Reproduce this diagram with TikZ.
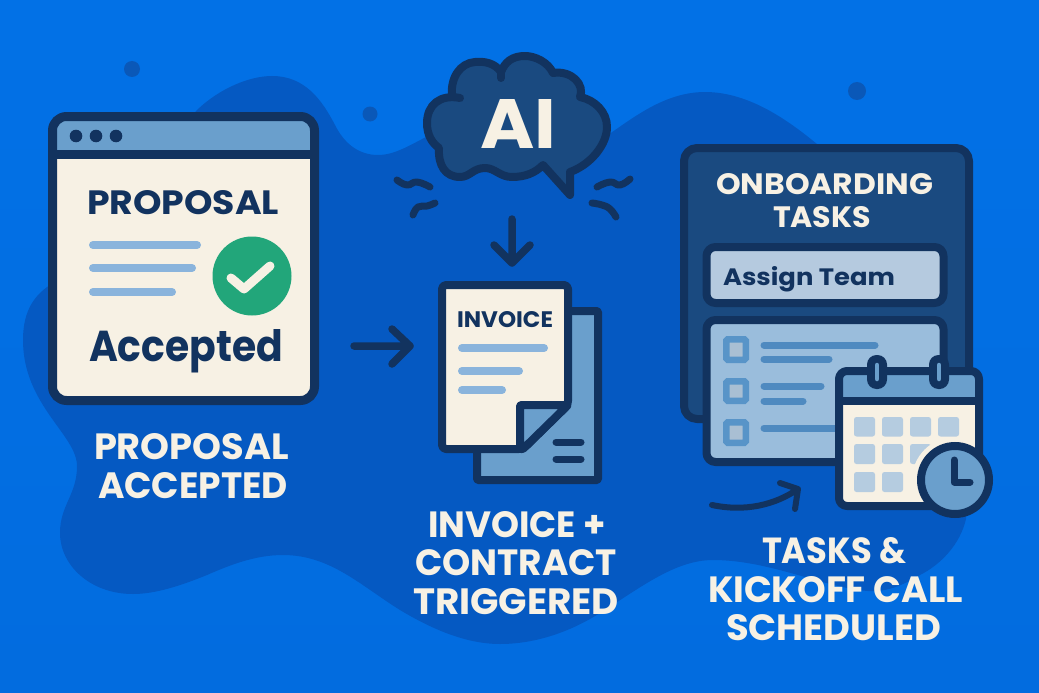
\documentclass[tikz,border=0pt]{standalone}
\usepackage{fontspec}
\setmainfont{Poppins}
\definecolor{bgtop}{HTML}{0271E6}
\definecolor{bgbot}{HTML}{026CDF}
\definecolor{blob}{HTML}{0559C2}
\definecolor{speck}{HTML}{0A58B8}
\definecolor{navy}{HTML}{12335F}
\definecolor{card}{HTML}{1A4A80}
\definecolor{paper}{HTML}{F7F1E4}
\definecolor{barblue}{HTML}{6A9FCC}
\definecolor{lineblue}{HTML}{8AB4DC}
\definecolor{okgreen}{HTML}{22A67A}
\definecolor{slate}{HTML}{B5CADF}
\definecolor{taskblue}{HTML}{9ABDDC}
\definecolor{taskline}{HTML}{4F8AC0}
\definecolor{boxline}{HTML}{5894C8}
\definecolor{boxfill}{HTML}{A9BFD3}
\definecolor{cellblue}{HTML}{B5CCE0}
\newcommand{\fittext}[3]{\resizebox{#1pt}{#2pt}{#3}}
\tikzset{
  lbl/.style={anchor=base west,inner sep=0pt,outer sep=0pt,text=paper,font=\bfseries},
  dark/.style={anchor=base west,inner sep=0pt,outer sep=0pt,text=navy,font=\bfseries},
  outline/.style={draw=navy,line width=8pt,rounded corners=#1,line join=round},
  stroke/.style={draw=navy,line width=#1,line cap=round,line join=round},
  bar/.style={draw=#1,line width=8pt,line cap=round},
  tline/.style={draw=taskline,line width=7pt,line cap=round},
  cbox/.style={draw=boxline,fill=boxfill,line width=6.5pt,rounded corners=1.5pt},
  cell/.style={fill=cellblue,rounded corners=2.5pt},
  dot/.style={fill=speck}
}
\begin{document}
\begin{tikzpicture}[x=1pt,y=-1pt]
\useasboundingbox (0,0) rectangle (1039,693);
\shade[top color=bgtop,bottom color=bgbot] (0,0) rectangle (1039,693);
% background blob
\fill[blob] (197,110) .. controls (220,88) and (250,76) .. (272,76)
  .. controls (305,76) and (322,100) .. (335,125)
  .. controls (345,145) and (360,155) .. (378,155)
  .. controls (395,155) and (410,145) .. (430,135)
  -- (600,140) .. controls (625,125) and (660,92) .. (705,92)
  .. controls (750,92) and (790,122) .. (817,144)
  .. controls (880,200) and (968,300) .. (968,420)
  -- (966,519) .. controls (960,545) and (940,565) .. (920,575)
  .. controls (900,587) and (885,592) .. (868,591)
  .. controls (825,588) and (770,560) .. (713,560)
  .. controls (675,560) and (640,588) .. (600,613)
  .. controls (570,632) and (535,644) .. (500,644)
  .. controls (465,644) and (430,628) .. (400,610)
  .. controls (360,585) and (330,555) .. (283,555)
  .. controls (255,555) and (230,565) .. (207,575)
  .. controls (180,586) and (155,594) .. (133,594)
  .. controls (90,594) and (60,565) .. (60,533)
  .. controls (60,505) and (77,495) .. (77,466)
  .. controls (77,435) and (23,405) .. (23,340)
  .. controls (23,310) and (35,295) .. (50,285) -- cycle;
\fill[dot] (132,69) circle[radius=8];
\fill[dot] (370,114) circle[radius=7.5];
\fill[dot] (857,91) circle[radius=9];

% proposal window
\fill[paper,rounded corners=14pt] (52.5,116.5) rectangle (314.5,400.5);
\begin{scope}
  \clip[rounded corners=14pt] (52.5,116.5) rectangle (314.5,400.5);
  \fill[barblue] (52,116) rectangle (315,155);
\end{scope}
\draw[outline=14pt,line width=9pt] (52.5,116.5) rectangle (314.5,400.5);
\draw[stroke=9pt,line cap=butt] (52.5,154.5) -- (314.5,154.5);
\foreach \x in {76,96,116} \fill[navy] (\x,136) circle[radius=6.3];
\node[dark] (proptitle) at (87,214) {\fittext{192}{24}{PROPOSAL}};
\draw[bar=lineblue] (93,245) -- (197,245);
\draw[bar=lineblue] (93,268) -- (192,268);
\draw[bar=lineblue] (93,292) -- (172,292);
\fill[okgreen] (252,276) circle[radius=39.5];
\draw[paper,line width=9pt,line cap=round,line join=round] (231,278) -- (244,289) -- (270,266);
\node[dark] (accepted) at (89,361) {\fittext{194}{32}{Accepted}};
\node[lbl] (l1a) at (94,459) {\fittext{195}{26}{PROPOSAL}};
\node[lbl] (l1b) at (98,498) {\fittext{190}{26}{ACCEPTED}};

% arrow to invoice
\coordinate (a1s) at (354,346);
\coordinate (a1e) at (410,346);
\draw[stroke=7.5pt] (a1s) -- (a1e) -- ++(-18,-17) (a1e) -- ++(-18,18);

% AI cloud
\path[fill=card,stroke=8pt] (460,98) .. controls (440,94) and (427,105) .. (427,123)
  .. controls (427,135) and (432,143) .. (439,148)
  .. controls (438,165) and (445,177) .. (460,177)
  .. controls (470,177) and (473,168) .. (485,168)
  .. controls (495,168) and (500,177) .. (512,177)
  .. controls (525,177) and (535,173) .. (543,165)
  -- (570,195) -- (570,172)
  .. controls (590,165) and (607,145) .. (607,127)
  .. controls (607,112) and (595,100) .. (580,97)
  .. controls (585,85) and (572,70) .. (553,73)
  .. controls (548,62) and (535,56) .. (525,56)
  .. controls (512,56) and (505,62) .. (501,72)
  .. controls (495,63) and (484,61) .. (475,62)
  .. controls (460,63) and (450,78) .. (452,97);
\draw[stroke=8pt] (501,70) -- (501,78);
\node[lbl] (ai) at (480,148) {\fittext{76}{49}{AI}};
\draw[stroke=7pt] plot[smooth,tension=.8] coordinates {(397,180) (407,185) (417,182) (430,187)};
\draw[stroke=7pt] plot[smooth,tension=.8] coordinates {(413,215) (418,207) (427,206) (435,203)};
\draw[stroke=7pt] plot[smooth,tension=.8] coordinates {(597,187) (610,182) (620,185) (630,179)};
\draw[stroke=7pt] plot[smooth,tension=.8] coordinates {(592,203) (602,205) (610,209) (616,217)};
\coordinate (a2s) at (512,219);
\coordinate (a2e) at (512,263);
\draw[stroke=7.5pt] (a2s) -- (a2e) -- ++(-18,-18) (a2e) -- ++(18,-18);

% invoice pages
\path[fill=barblue,outline=1pt] (477,311) rectangle (598,480);
\draw[stroke=7pt] (556,442) -- (581,442);
\draw[stroke=7pt] (556,459) -- (581,459);
\path[fill=paper,outline=4pt] (442,285) -- (568,285) -- (568,405) -- (523,449) -- (442,449) -- cycle;
\path[fill=barblue,outline=1pt] (520,449) -- (520,405) -- (568,405) -- (523,449) -- cycle;
\node[dark] (inv) at (457,327) {\fittext{96}{16}{INVOICE}};
\draw[bar=lineblue] (462,348) -- (544,348);
\draw[bar=lineblue] (462,371) -- (519,371);
\draw[bar=lineblue] (462,390) -- (502,390);
\node[lbl] (l2a) at (428,537) {\fittext{178}{26}{INVOICE +}};
\node[lbl] (l2b) at (415,575) {\fittext{202}{26}{CONTRACT}};
\node[lbl] (l2c) at (413,614) {\fittext{206}{26}{TRIGGERED}};

% onboarding card
\path[fill=card,outline=13pt] (684,148) rectangle (969,419);
\node[lbl] (ob1) at (716,194) {\fittext{217}{21}{ONBOARDING}};
\node[lbl] (ob2) at (773,227) {\fittext{98}{21}{TASKS}};
\path[fill=slate,outline=9pt] (706.5,247) rectangle (943.5,303);
\node[dark,font=\fontseries{sb}\selectfont] (assign) at (723,285) {\fittext{172}{19}{Assign Team}};
\path[fill=taskblue,outline=9pt] (706.5,320) rectangle (943.5,462);
\draw[cbox] (726.25,339.25) rectangle (745.75,359.75);
\draw[cbox] (726.25,381.25) rectangle (745.75,400.75);
\draw[cbox] (726.25,422.25) rectangle (745.75,442.75);
\draw[tline] (764,345) -- (875,345);
\draw[tline] (764,359) -- (829,359);
\draw[tline] (764,386) -- (821,386);
\draw[tline] (764,401) -- (803,401);
\draw[tline] (764,428) -- (850,428);

% calendar
\fill[paper,rounded corners=8pt] (839,371) rectangle (979,506);
\begin{scope}
  \clip[rounded corners=8pt] (839,371) rectangle (979,506);
  \fill[barblue] (839,371) rectangle (979,401);
  \foreach \x in {854,882,910,938}
    \fill[cell] (\x,417) rectangle ++(21,19.5);
  \foreach \x in {854,882,910}
    \fill[cell] (\x,444) rectangle ++(21,20);
  \foreach \x in {854,882}
    \fill[cell] (\x,472) rectangle ++(21,20);
  \fill[paper] (955,480) circle[radius=43];
\end{scope}
\draw[outline=8pt] (839,371) rectangle (979,506);
\draw[stroke=8pt,line cap=butt] (839,401) -- (979,401);
\foreach \x in {877,939} {
  \fill[navy,rounded corners=9.5pt] (\x-10,355) rectangle (\x+10,389);
  \draw[barblue,line width=4.5pt,line cap=round] (\x,365) -- (\x,379);
}
\filldraw[fill=barblue,draw=navy,line width=8pt] (955,480) circle[radius=34];
\draw[stroke=7pt] (954,460) -- (954,482) -- (970,482);

% curved arrow
\coordinate (a3s) at (712,505);
\coordinate (a3e) at (798,489);
\draw[stroke=6pt] (a3s) .. controls (745,512) and (775,505) .. (a3e) -- ++(-18,-6) (a3e) -- ++(-3,20);
\node[lbl] (l3a) at (762,563) {\fittext{144}{26}{TASKS \&}};
\node[lbl] (l3b) at (708,602) {\fittext{255}{26}{KICKOFF CALL}};
\node[lbl] (l3c) at (726,640) {\fittext{215}{26}{SCHEDULED}};
\end{tikzpicture}
\end{document}
